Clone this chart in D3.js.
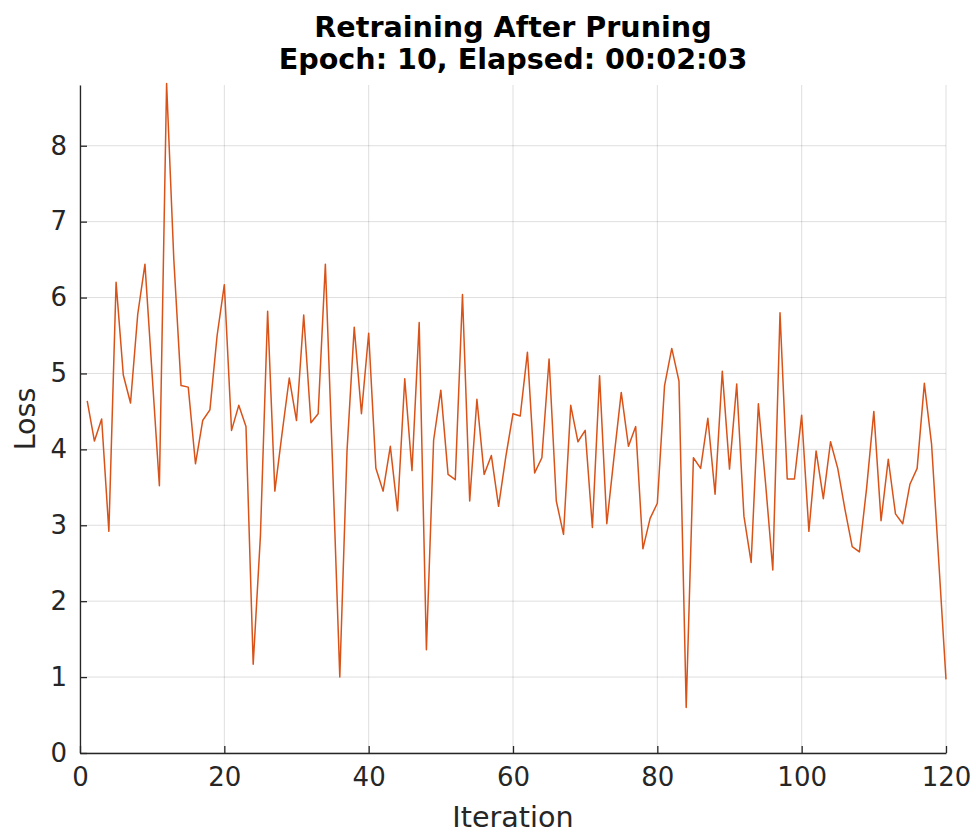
<!DOCTYPE html>
<html>
<head>
<meta charset="utf-8">
<script src="https://cdn.jsdelivr.net/npm/d3@7"></script>
<style>
  body { margin: 0; background: #fff; }
  text { font-family: "DejaVu Sans", sans-serif; }
</style>
</head>
<body>
<div id="chart"></div>
<script>
// loss per iteration
const iterations = d3.range(1, 121);
const loss = [
  4.64, 4.11, 4.40, 2.92, 6.20, 4.98, 4.61, 5.78, 6.44, 4.98,
  3.52, 8.82, 6.50, 4.84, 4.82, 3.81, 4.38, 4.52, 5.50, 6.17,
  4.25, 4.58, 4.30, 1.17, 2.86, 5.82, 3.45, 4.21, 4.94, 4.38,
  5.77, 4.35, 4.47, 6.44, 3.80, 1.00, 3.98, 5.61, 4.47, 5.53,
  3.75, 3.45, 4.04, 3.19, 4.93, 3.72, 5.67, 1.36, 4.12, 4.78,
  3.67, 3.60, 6.04, 3.32, 4.66, 3.67, 3.92, 3.25, 3.90, 4.47,
  4.44, 5.28, 3.69, 3.89, 5.19, 3.32, 2.88, 4.58, 4.10, 4.25,
  2.97, 4.97, 3.02, 3.90, 4.75, 4.04, 4.30, 2.69, 3.09, 3.29,
  4.84, 5.33, 4.90, 0.60, 3.89, 3.75, 4.41, 3.41, 5.03, 3.74,
  4.86, 3.12, 2.51, 4.60, 3.55, 2.41, 5.80, 3.61, 3.61, 4.45,
  2.92, 3.98, 3.35, 4.10, 3.75, 3.21, 2.72, 2.65, 3.49, 4.50,
  3.06, 3.87, 3.15, 3.02, 3.54, 3.75, 4.87, 4.07, 2.52, 0.97
];
const xTicks = [0, 20, 40, 60, 80, 100, 120];
const yTicks = [0, 1, 2, 3, 4, 5, 6, 7, 8];
const titleLines = ["Retraining After Pruning", "Epoch: 10, Elapsed: 00:02:03"];

const W = 976, H = 834;
const margin = {top: 85, right: 30, bottom: 81, left: 80};
const width = W - margin.left - margin.right,
      height = H - margin.top - margin.bottom;
const axisColor = "#262626";

const svg = d3.select("#chart").append("svg")
    .attr("width", W).attr("height", H);
const g = svg.append("g")
    .attr("transform", "translate(" + margin.left + "," + margin.top + ")");

const x = d3.scaleLinear().domain([0, 120]).range([0, width]);
const y = d3.scaleLinear().domain([0, 8.8]).range([height, 0]);

// grid
g.append("g").selectAll("line").data(xTicks).enter().append("line")
    .attr("x1", d => x(d)).attr("x2", d => x(d))
    .attr("y1", 0).attr("y2", height)
    .attr("stroke", axisColor).attr("stroke-opacity", 0.15);
g.append("g").selectAll("line").data(yTicks).enter().append("line")
    .attr("x1", 0).attr("x2", width)
    .attr("y1", d => y(d)).attr("y2", d => y(d))
    .attr("stroke", axisColor).attr("stroke-opacity", 0.15);

// axes, ticks pointing inward
const xAxis = g.append("g")
    .attr("transform", "translate(0," + height + ")")
    .call(d3.axisBottom(x).tickValues(xTicks).tickSizeInner(-7).tickSizeOuter(0).tickPadding(15));
const yAxis = g.append("g")
    .call(d3.axisLeft(y).tickValues(yTicks).tickSizeInner(-7).tickSizeOuter(0).tickPadding(13));
[xAxis, yAxis].forEach(a => {
  a.select(".domain").attr("stroke", axisColor).attr("stroke-width", 1.3);
  a.selectAll(".tick line").attr("stroke", axisColor).attr("stroke-width", 1.3);
  a.selectAll(".tick text").attr("fill", axisColor)
    .style("font-family", "DejaVu Sans").style("font-size", "26px");
});

// the loss line
g.append("path")
    .datum(iterations.map((it, i) => [it, loss[i]]))
    .attr("fill", "none")
    .attr("stroke", "#D95319")
    .attr("stroke-width", 1.5)
    .attr("stroke-linejoin", "round")
    .attr("d", d3.line().x(d => x(d[0])).y(d => y(d[1])));

// labels
svg.append("text")
    .attr("x", margin.left + width / 2).attr("y", 827)
    .attr("text-anchor", "middle").attr("fill", axisColor)
    .style("font-size", "28.6px").text("Iteration");
svg.append("text")
    .attr("transform", "translate(35," + (margin.top + height / 2) + ") rotate(-90)")
    .attr("text-anchor", "middle").attr("fill", axisColor)
    .style("font-size", "28.6px").text("Loss");

svg.selectAll(".title").data(titleLines).enter().append("text")
    .attr("class", "title")
    .attr("x", margin.left + width / 2)
    .attr("y", (d, i) => 37 + i * 32)
    .attr("text-anchor", "middle").attr("fill", "#000")
    .style("font-size", "28.6px").style("font-weight", "bold")
    .text(d => d);
</script>
</body>
</html>
